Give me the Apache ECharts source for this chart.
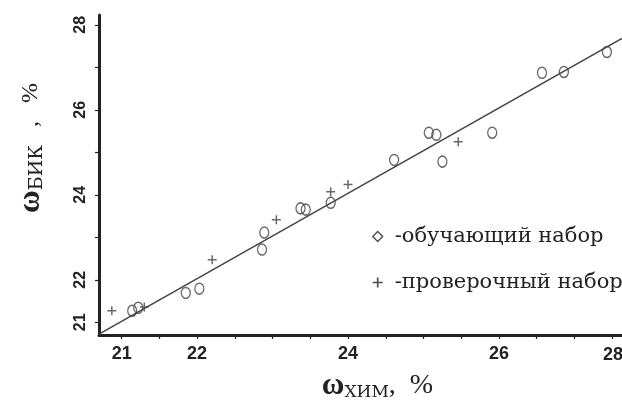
<!DOCTYPE html>
<html><head><meta charset="utf-8">
<script src="https://cdn.jsdelivr.net/npm/echarts@6/dist/echarts.min.js"></script>
<style>html,body{margin:0;padding:0;background:#fff}#c{width:622px;height:406px}</style>
</head><body><div id="c"></div>
<script>
// training set (circles)
const trainX = [21.14, 21.22, 21.85, 22.03, 22.86, 22.89, 23.37, 23.44, 23.77, 24.61, 25.07, 25.17, 25.25, 25.91, 26.57, 26.86, 27.43];
const trainY = [21.27, 21.34, 21.69, 21.79, 22.71, 23.11, 23.68, 23.65, 23.81, 24.82, 25.46, 25.41, 24.78, 25.46, 26.87, 26.89, 27.36];
// test set (pluses)
const testX = [20.87, 21.30, 22.20, 23.05, 23.77, 24.00, 25.46];
const testY = [21.27, 21.36, 22.47, 23.41, 24.07, 24.24, 25.25];
// fitted line
const fitX = [20.70, 27.63];
const fitY = [20.72, 27.68];
// ticks / labels
const xTickLabels = [21, 22, 24, 26];
const xLastLabel = '28';
const yTickLabels = [21, 22, 24, 26, 28];
const xTicks = [21, 21.5, 22, 22.5, 23, 23.5, 24, 24.5, 25, 25.5, 26, 26.5, 27, 27.5];
const yTicks = [21, 22, 23, 24, 25, 26, 27, 28];
const trainName = 'обучающий набор';
const testName = 'проверочный набор';

const zip = (a, b) => a.map((v, i) => [v, b[i]]);
const ink = '#222';
const markInk = '#444';
const plusPath = 'path://M4,0h1.6v9.6h-1.6zM0,4h9.6v1.6h-9.6z';
const serif = "'Liberation Serif', serif";
const dserif = "'DejaVu Serif', serif";

const chart = echarts.init(document.getElementById('c'), null, {renderer: 'canvas'});
chart.setOption({
  animation: false,
  backgroundColor: '#fff',
  grid: {left: 99, right: 0, top: 15, bottom: 71},
  xAxis: {
    type: 'value', min: 20.7, max: 27.63,
    splitLine: {show: false},
    axisLine: {lineStyle: {color: ink, width: 3}},
    axisTick: {customValues: xTicks, length: 4, lineStyle: {color: ink, width: 1.2}},
    axisLabel: {customValues: xTickLabels, fontSize: 18, fontWeight: 'bold', color: ink, margin: 10, fontFamily: "'Liberation Sans', sans-serif"},
    name: '{w|ω}{s|ХИМ}{p|,  %}',
    nameLocation: 'middle', nameGap: 35,
    nameTextStyle: {
      padding: [0, 0, 0, 34],
      rich: {
        w: {fontSize: 31, fontWeight: 'bold', fontFamily: serif, color: ink},
        s: {fontSize: 17, fontFamily: dserif, color: ink, padding: [14, 0, 0, 0]},
        p: {fontSize: 28, fontFamily: serif, color: ink}
      }
    }
  },
  yAxis: {
    type: 'value', min: 20.7, max: 28.23,
    splitLine: {show: false},
    axisLine: {lineStyle: {color: ink, width: 3}},
    axisTick: {customValues: yTicks, length: 4, lineStyle: {color: ink, width: 1.2}},
    axisLabel: {customValues: yTickLabels, rotate: 90, fontSize: 16, fontWeight: 'bold', color: ink, margin: 10, fontFamily: "'Liberation Sans', sans-serif"},
    name: '{w|ω}{s|БИК}{p|   ,   %}',
    nameLocation: 'middle', nameGap: 52,
    nameTextStyle: {
      padding: [0, 0, 0, 54],
      rich: {
        w: {fontSize: 31, fontWeight: 'bold', fontFamily: serif, color: ink},
        s: {fontSize: 19, fontFamily: dserif, color: ink, padding: [14, 0, 0, 0]},
        p: {fontSize: 24, fontFamily: serif, color: ink}
      }
    }
  },
  legend: {
    orient: 'vertical', left: 367, top: 221, itemGap: 25,
    itemWidth: 10, itemHeight: 10,
    formatter: '-{name}',
    textStyle: {fontSize: 21, fontFamily: dserif, color: ink, padding: [0, 0, 0, 7]},
    data: [
      {name: trainName, icon: 'diamond', itemStyle: {color: '#fff', borderColor: ink, borderWidth: 1.4}},
      {name: testName, icon: plusPath, itemStyle: {color: ink, borderWidth: 0}}
    ]
  },
  graphic: [{
    type: 'text', left: 603, top: 346,
    style: {text: xLastLabel, fontSize: 18, fontWeight: 'bold', fill: ink, fontFamily: "'Liberation Sans', sans-serif"}
  }],
  series: [
    {
      type: 'line', data: zip(fitX, fitY), showSymbol: false, silent: true,
      lineStyle: {color: markInk, width: 1.5}, legendHoverLink: false
    },
    {
      name: trainName, type: 'scatter', data: zip(trainX, trainY),
      symbol: 'circle', symbolSize: [9, 11],
      itemStyle: {color: 'rgba(255,255,255,0)', borderColor: markInk, borderWidth: 1.4}
    },
    {
      name: testName, type: 'scatter', data: zip(testX, testY),
      symbol: plusPath, symbolSize: 9,
      itemStyle: {color: markInk}
    }
  ]
});
</script>
</body></html>
